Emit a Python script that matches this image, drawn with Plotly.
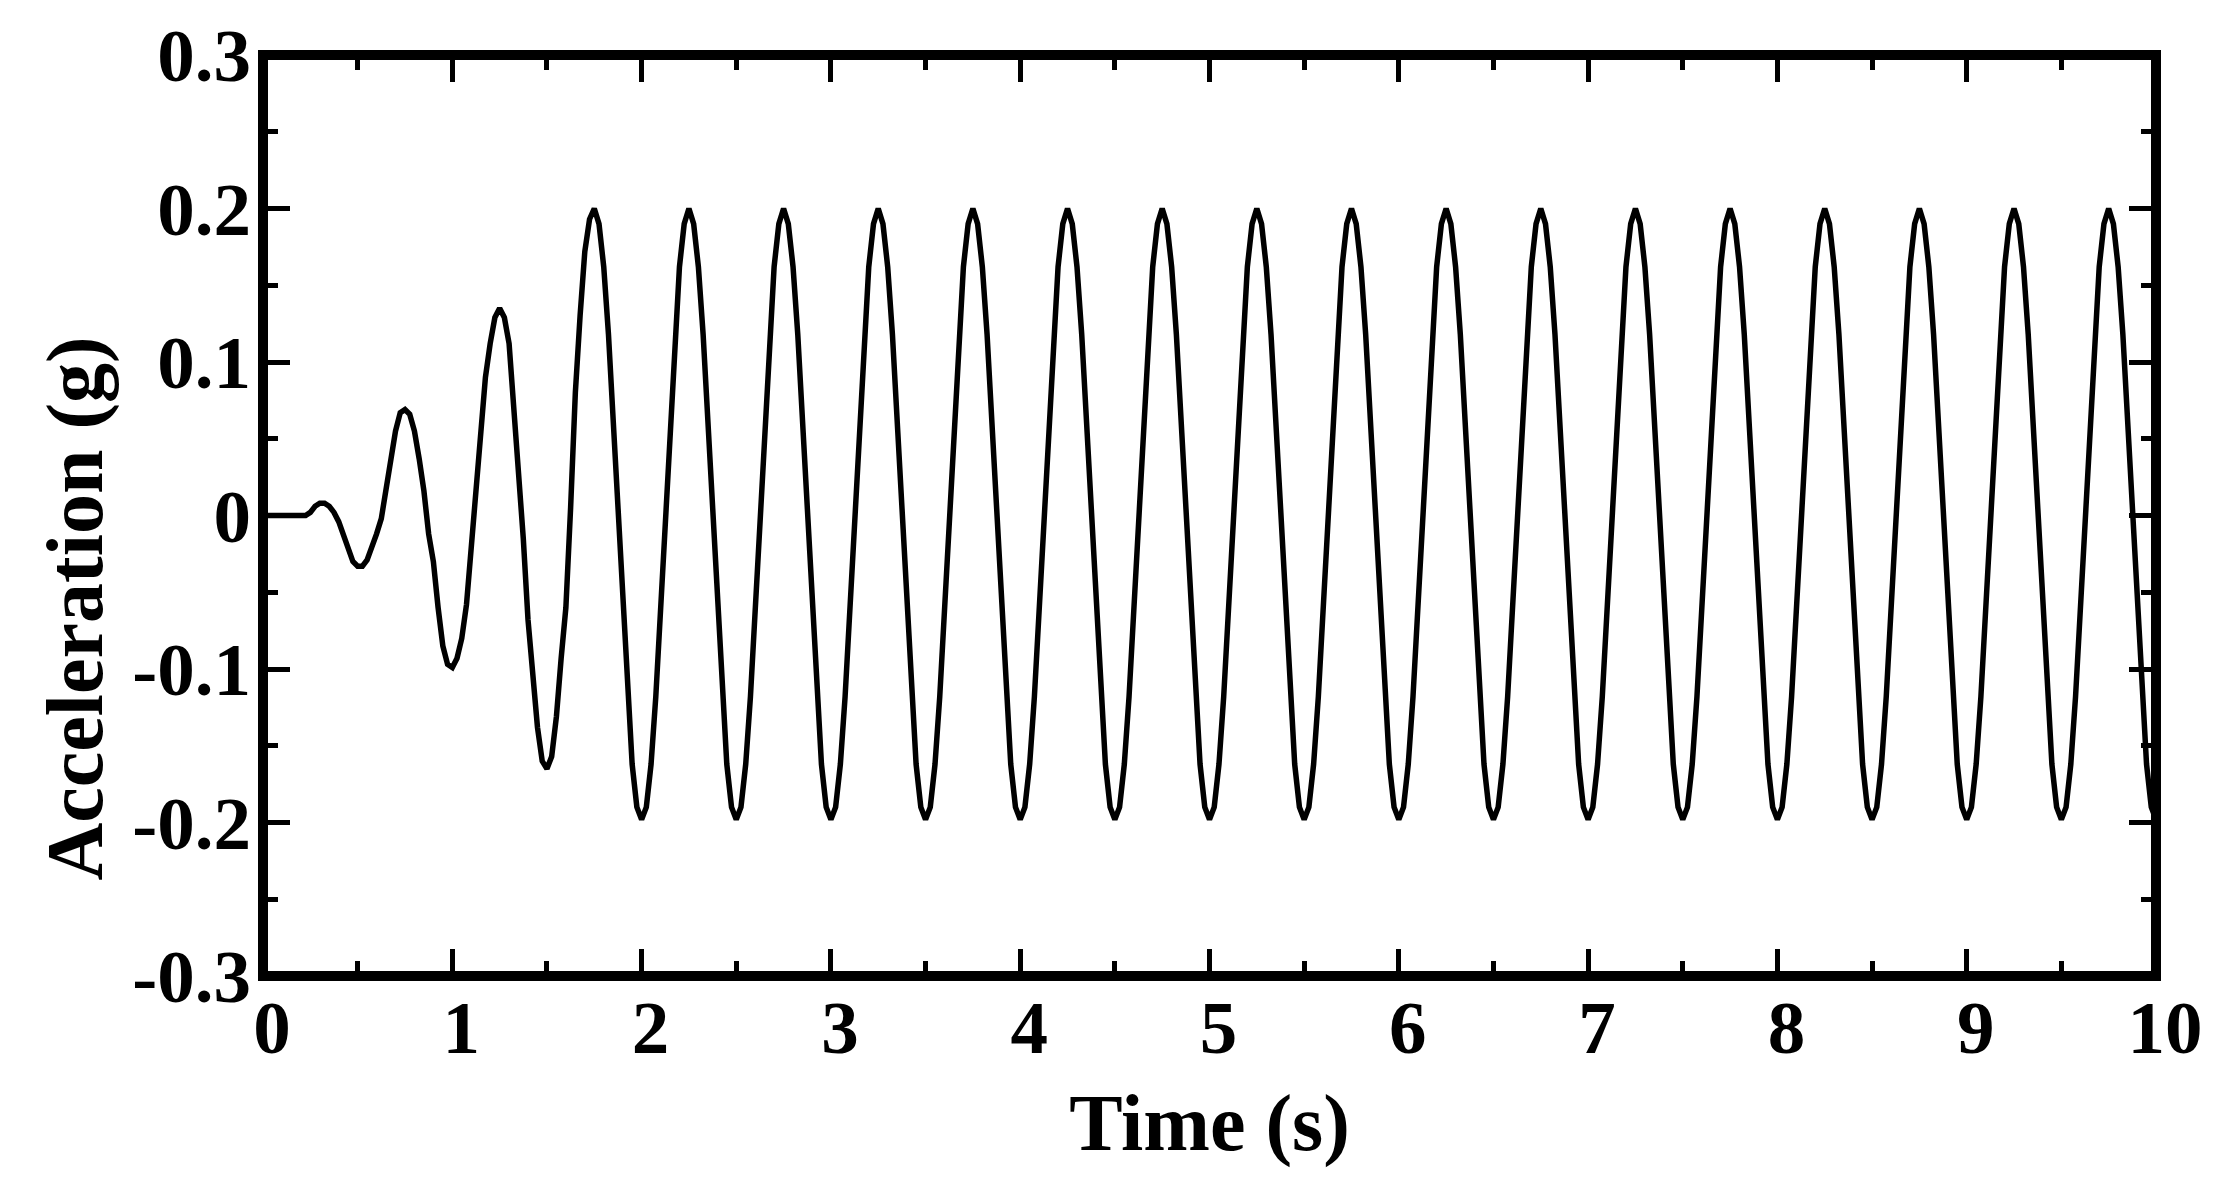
import plotly.graph_objects as go

# ---------------- data ----------------
time_s = [
    0.0, 0.025, 0.05, 0.075, 0.1, 0.125, 0.15, 0.175, 0.2, 0.225, 0.25, 0.275, 0.3, 0.325, 0.35, 0.375, 0.4, 0.425, 0.45, 0.475,
    0.5, 0.525, 0.55, 0.575, 0.6, 0.625, 0.65, 0.675, 0.7, 0.725, 0.75, 0.775, 0.8, 0.825, 0.85, 0.875, 0.9, 0.925, 0.95, 0.975,
    1.0, 1.025, 1.05, 1.075, 1.1, 1.125, 1.15, 1.175, 1.2, 1.225, 1.25, 1.275, 1.3, 1.325, 1.35, 1.375, 1.4, 1.425, 1.45, 1.475,
    1.5, 1.525, 1.55, 1.575, 1.6, 1.625, 1.65, 1.675, 1.7, 1.725, 1.75, 1.775, 1.8, 1.825, 1.85, 1.875, 1.9, 1.925, 1.95, 1.975,
    2.0, 2.025, 2.05, 2.075, 2.1, 2.125, 2.15, 2.175, 2.2, 2.225, 2.25, 2.275, 2.3, 2.325, 2.35, 2.375, 2.4, 2.425, 2.45, 2.475,
    2.5, 2.525, 2.55, 2.575, 2.6, 2.625, 2.65, 2.675, 2.7, 2.725, 2.75, 2.775, 2.8, 2.825, 2.85, 2.875, 2.9, 2.925, 2.95, 2.975,
    3.0, 3.025, 3.05, 3.075, 3.1, 3.125, 3.15, 3.175, 3.2, 3.225, 3.25, 3.275, 3.3, 3.325, 3.35, 3.375, 3.4, 3.425, 3.45, 3.475,
    3.5, 3.525, 3.55, 3.575, 3.6, 3.625, 3.65, 3.675, 3.7, 3.725, 3.75, 3.775, 3.8, 3.825, 3.85, 3.875, 3.9, 3.925, 3.95, 3.975,
    4.0, 4.025, 4.05, 4.075, 4.1, 4.125, 4.15, 4.175, 4.2, 4.225, 4.25, 4.275, 4.3, 4.325, 4.35, 4.375, 4.4, 4.425, 4.45, 4.475,
    4.5, 4.525, 4.55, 4.575, 4.6, 4.625, 4.65, 4.675, 4.7, 4.725, 4.75, 4.775, 4.8, 4.825, 4.85, 4.875, 4.9, 4.925, 4.95, 4.975,
    5.0, 5.025, 5.05, 5.075, 5.1, 5.125, 5.15, 5.175, 5.2, 5.225, 5.25, 5.275, 5.3, 5.325, 5.35, 5.375, 5.4, 5.425, 5.45, 5.475,
    5.5, 5.525, 5.55, 5.575, 5.6, 5.625, 5.65, 5.675, 5.7, 5.725, 5.75, 5.775, 5.8, 5.825, 5.85, 5.875, 5.9, 5.925, 5.95, 5.975,
    6.0, 6.025, 6.05, 6.075, 6.1, 6.125, 6.15, 6.175, 6.2, 6.225, 6.25, 6.275, 6.3, 6.325, 6.35, 6.375, 6.4, 6.425, 6.45, 6.475,
    6.5, 6.525, 6.55, 6.575, 6.6, 6.625, 6.65, 6.675, 6.7, 6.725, 6.75, 6.775, 6.8, 6.825, 6.85, 6.875, 6.9, 6.925, 6.95, 6.975,
    7.0, 7.025, 7.05, 7.075, 7.1, 7.125, 7.15, 7.175, 7.2, 7.225, 7.25, 7.275, 7.3, 7.325, 7.35, 7.375, 7.4, 7.425, 7.45, 7.475,
    7.5, 7.525, 7.55, 7.575, 7.6, 7.625, 7.65, 7.675, 7.7, 7.725, 7.75, 7.775, 7.8, 7.825, 7.85, 7.875, 7.9, 7.925, 7.95, 7.975,
    8.0, 8.025, 8.05, 8.075, 8.1, 8.125, 8.15, 8.175, 8.2, 8.225, 8.25, 8.275, 8.3, 8.325, 8.35, 8.375, 8.4, 8.425, 8.45, 8.475,
    8.5, 8.525, 8.55, 8.575, 8.6, 8.625, 8.65, 8.675, 8.7, 8.725, 8.75, 8.775, 8.8, 8.825, 8.85, 8.875, 8.9, 8.925, 8.95, 8.975,
    9.0, 9.025, 9.05, 9.075, 9.1, 9.125, 9.15, 9.175, 9.2, 9.225, 9.25, 9.275, 9.3, 9.325, 9.35, 9.375, 9.4, 9.425, 9.45, 9.475,
    9.5, 9.525, 9.55, 9.575, 9.6, 9.625, 9.65, 9.675, 9.7, 9.725, 9.75, 9.775, 9.8, 9.825, 9.85, 9.875, 9.9, 9.925, 9.95, 9.975,
    10.0,
]

accel_g = [
    0.0, 0.0, 0.0, 0.0, 0.0, 0.0, 0.0, 0.0, 0.0, 0.0, 0.002, 0.006, 0.008, 0.008, 0.006, 0.002, -0.004, -0.013, -0.022, -0.030,
    -0.033, -0.033, -0.029, -0.021, -0.012, -0.002, 0.018, 0.037, 0.055, 0.067, 0.069, 0.066, 0.055, 0.037, 0.016, -0.012, -0.030, -0.060, -0.085, -0.097,
    -0.099, -0.093, -0.080, -0.058, -0.020, 0.018, 0.055, 0.090, 0.112, 0.129, 0.135, 0.129, 0.112, 0.072, 0.033, -0.015, -0.068, -0.100, -0.138, -0.160,
    -0.165, -0.157, -0.131, -0.093, -0.060, 0.005, 0.080, 0.130, 0.172, 0.193, 0.200, 0.190, 0.162, 0.118, 0.062, 0.000, -0.062, -0.118, -0.162, -0.190,
    -0.198, -0.190, -0.162, -0.118, -0.062, 0.000, 0.062, 0.118, 0.162, 0.190, 0.200, 0.190, 0.162, 0.118, 0.062, 0.000, -0.062, -0.118, -0.162, -0.190,
    -0.198, -0.190, -0.162, -0.118, -0.062, 0.000, 0.062, 0.118, 0.162, 0.190, 0.200, 0.190, 0.162, 0.118, 0.062, 0.000, -0.062, -0.118, -0.162, -0.190,
    -0.198, -0.190, -0.162, -0.118, -0.062, 0.000, 0.062, 0.118, 0.162, 0.190, 0.200, 0.190, 0.162, 0.118, 0.062, 0.000, -0.062, -0.118, -0.162, -0.190,
    -0.198, -0.190, -0.162, -0.118, -0.062, 0.000, 0.062, 0.118, 0.162, 0.190, 0.200, 0.190, 0.162, 0.118, 0.062, 0.000, -0.062, -0.118, -0.162, -0.190,
    -0.198, -0.190, -0.162, -0.118, -0.062, 0.000, 0.062, 0.118, 0.162, 0.190, 0.200, 0.190, 0.162, 0.118, 0.062, 0.000, -0.062, -0.118, -0.162, -0.190,
    -0.198, -0.190, -0.162, -0.118, -0.062, 0.000, 0.062, 0.118, 0.162, 0.190, 0.200, 0.190, 0.162, 0.118, 0.062, 0.000, -0.062, -0.118, -0.162, -0.190,
    -0.198, -0.190, -0.162, -0.118, -0.062, 0.000, 0.062, 0.118, 0.162, 0.190, 0.200, 0.190, 0.162, 0.118, 0.062, 0.000, -0.062, -0.118, -0.162, -0.190,
    -0.198, -0.190, -0.162, -0.118, -0.062, 0.000, 0.062, 0.118, 0.162, 0.190, 0.200, 0.190, 0.162, 0.118, 0.062, 0.000, -0.062, -0.118, -0.162, -0.190,
    -0.198, -0.190, -0.162, -0.118, -0.062, 0.000, 0.062, 0.118, 0.162, 0.190, 0.200, 0.190, 0.162, 0.118, 0.062, 0.000, -0.062, -0.118, -0.162, -0.190,
    -0.198, -0.190, -0.162, -0.118, -0.062, 0.000, 0.062, 0.118, 0.162, 0.190, 0.200, 0.190, 0.162, 0.118, 0.062, 0.000, -0.062, -0.118, -0.162, -0.190,
    -0.198, -0.190, -0.162, -0.118, -0.062, 0.000, 0.062, 0.118, 0.162, 0.190, 0.200, 0.190, 0.162, 0.118, 0.062, 0.000, -0.062, -0.118, -0.162, -0.190,
    -0.198, -0.190, -0.162, -0.118, -0.062, 0.000, 0.062, 0.118, 0.162, 0.190, 0.200, 0.190, 0.162, 0.118, 0.062, 0.000, -0.062, -0.118, -0.162, -0.190,
    -0.198, -0.190, -0.162, -0.118, -0.062, 0.000, 0.062, 0.118, 0.162, 0.190, 0.200, 0.190, 0.162, 0.118, 0.062, 0.000, -0.062, -0.118, -0.162, -0.190,
    -0.198, -0.190, -0.162, -0.118, -0.062, 0.000, 0.062, 0.118, 0.162, 0.190, 0.200, 0.190, 0.162, 0.118, 0.062, 0.000, -0.062, -0.118, -0.162, -0.190,
    -0.198, -0.190, -0.162, -0.118, -0.062, 0.000, 0.062, 0.118, 0.162, 0.190, 0.200, 0.190, 0.162, 0.118, 0.062, 0.000, -0.062, -0.118, -0.162, -0.190,
    -0.198, -0.190, -0.162, -0.118, -0.062, 0.000, 0.062, 0.118, 0.162, 0.190, 0.200, 0.190, 0.162, 0.118, 0.062, 0.000, -0.062, -0.118, -0.162, -0.190,
    -0.198,
]

x_tick_vals = [0, 1, 2, 3, 4, 5, 6, 7, 8, 9, 10]
x_tick_text = ["0", "1", "2", "3", "4", "5", "6", "7", "8", "9", "10"]
y_tick_vals = [-0.3, -0.2, -0.1, 0.0, 0.1, 0.2, 0.3]
y_tick_text = ["-0.3", "-0.2", "-0.1", "0", "0.1", "0.2", "0.3"]

x_title = "Time (s)"
y_title = "Acceleration (g)"

# ---------------- figure ----------------
FONT = "Liberation Serif"
TICK_FONT = dict(family=FONT, size=75, color="black", weight="bold")
TITLE_FONT = dict(family=FONT, size=80, color="black", weight="bold")

fig = go.Figure(
    go.Scatter(
        x=time_s,
        y=accel_g,
        mode="lines",
        line=dict(color="black", width=5.5),
        showlegend=False,
        hoverinfo="x+y",
    )
)

common_axis = dict(
    showgrid=False,
    zeroline=False,
    showline=False,
    mirror="ticks",
    ticks="inside",
    ticklen=27,
    tickwidth=5,
    tickcolor="black",
    tickmode="array",
    automargin=False,
    tickfont=TICK_FONT,
)

fig.update_xaxes(
    **common_axis,
    range=[0, 10],
    tickvals=x_tick_vals,
    ticktext=x_tick_text,
    minor=dict(tickmode="linear", tick0=0, dtick=0.5, ticks="inside",
               ticklen=15, tickwidth=5, tickcolor="black", showgrid=False),
    ticklabelshift=9,
    ticklabelstandoff=1,
    title=dict(text=x_title, font=TITLE_FONT, standoff=25),
)

fig.update_yaxes(
    **common_axis,
    range=[-0.3, 0.3],
    tickvals=y_tick_vals,
    ticktext=y_tick_text,
    minor=dict(tickmode="linear", tick0=0, dtick=0.05, ticks="inside",
               ticklen=15, tickwidth=5, tickcolor="black", showgrid=False),
    ticklabelstandoff=11,
)

# y-axis title, placed where the reference shows it (slightly below the axis centre)
fig.add_annotation(
    text=y_title, textangle=-90, font=TITLE_FONT, showarrow=False,
    xref="paper", yref="paper", x=0, y=0.399,
    xanchor="center", yanchor="middle", xshift=-187,
)

# plot frame drawn centred on the plot-area edges
fig.add_shape(type="rect", xref="paper", yref="paper", x0=0, y0=0, x1=1, y1=1,
              line=dict(color="black", width=10), fillcolor="rgba(0,0,0,0)", layer="above")

fig.update_layout(
    width=2236,
    height=1185,
    margin=dict(l=255, r=88, t=47, b=217, pad=0, autoexpand=False),
    paper_bgcolor="white",
    plot_bgcolor="white",
    font=dict(family=FONT, color="black"),
    showlegend=False,
)

fig.write_html("out.html")
